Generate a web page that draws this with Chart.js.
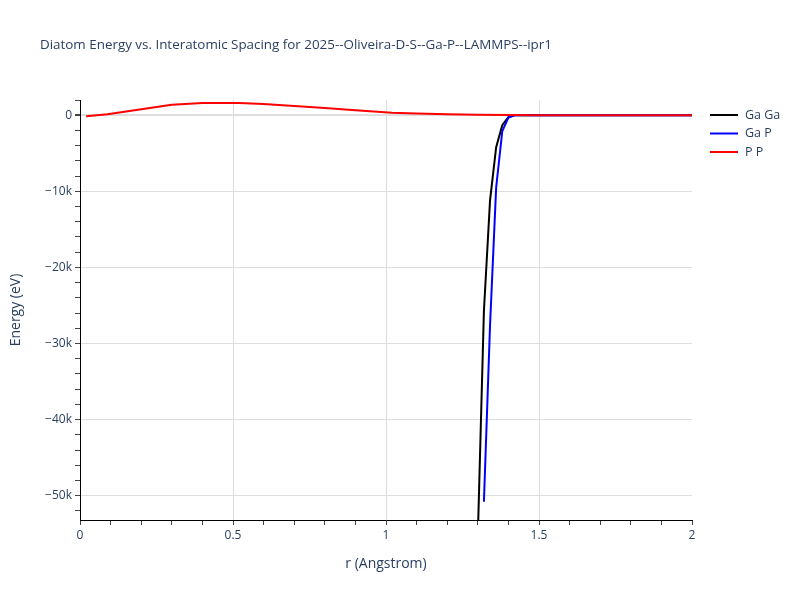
<!DOCTYPE html>
<html>
<head>
<meta charset="utf-8">
<title>Diatom Energy vs. Interatomic Spacing</title>
<script src="https://cdn.jsdelivr.net/npm/chart.js@4.4.1/dist/chart.umd.min.js"></script>
<style>
    html, body { margin: 0; padding: 0; background: #fff; }
    #wrap { width: 800px; height: 600px; }
</style>
</head>
<body>
<div id="wrap"><canvas id="diatomChart" width="800" height="600"></canvas></div>
<script>
'use strict';

// ============================================================================
// Data
// ============================================================================

const chartTitle = 'Diatom Energy vs. Interatomic Spacing for 2025--Oliveira-D-S--Ga-P--LAMMPS--ipr1';
const seriesNames = ['Ga Ga', 'Ga P', 'P P'];

// Ga Ga
const gaGaR = [1.30, 1.32, 1.34, 1.36, 1.38, 1.40, 1.42, 1.50, 2.00];
const gaGaE = [-55500, -25700, -11200, -4200, -1300, -250, 0, 0, 0];

// Ga P
const gaPR = [1.32, 1.34, 1.36, 1.38, 1.40, 1.42, 1.50, 2.00];
const gaPE = [-50800, -27600, -9500, -2100, -300, 0, 0, 0];

// P P
const ppR = [0.02, 0.09, 0.30, 0.40, 0.52, 0.60, 0.70, 0.80, 0.90, 1.02, 1.10, 1.20, 1.30, 1.40, 1.50, 2.00];
const ppE = [-150, 120, 1360, 1620, 1620, 1460, 1220, 940, 650, 330, 230, 140, 70, 30, 0, 0];

// Axis ranges and ticks
const xRange = [0, 2];
const yRange = [-53200, 2000];
const xMinorStep = 0.1;
const yMinorStep = 2000;
const yMajorStep = 10000;

// ============================================================================
// Style
// ============================================================================

const FONT = "'Open Sans', verdana, arial, sans-serif";
const TEXT = '#2a3f5f';
const GRID = '#dedede';
const lineColors = ['#000000', '#0000ff', '#ff0000'];

function toPoints(xs, ys) {
    return xs.map((x, i) => ({ x: x, y: ys[i] }));
}

/**
 * Tick values on a fixed step inside [min, max]
 */
function stepTicks(min, max, step) {
    const out = [];
    const first = Math.ceil(min / step - 1e-9);
    const last = Math.floor(max / step + 1e-9);
    for (let i = first; i <= last; i++) {
        out.push({ value: Math.round(i * step * 1e6) / 1e6 });
    }
    return out;
}

function isMajorX(v) {
    return Math.abs(v * 2 - Math.round(v * 2)) < 1e-6;
}

function isMajorY(v) {
    return Math.abs(v % yMajorStep) < 1e-6;
}

function formatK(v) {
    if (v === 0) return '0';
    const k = Math.round(v / 1000);
    return (k < 0 ? '\u2212' + (-k) : String(k)) + 'k';
}

// ============================================================================
// Plugins: title and legend drawn in plotly layout
// ============================================================================

const titlePlugin = {
    id: 'plotTitle',
    afterDraw(chart) {
        const ctx = chart.ctx;
        ctx.save();
        ctx.font = '13.4px ' + FONT;
        ctx.fillStyle = TEXT;
        ctx.textBaseline = 'middle';
        ctx.textAlign = 'left';
        ctx.fillText(chartTitle, 40, 45);
        ctx.restore();
    }
};

const legendPlugin = {
    id: 'sideLegend',
    afterDraw(chart) {
        const ctx = chart.ctx;
        ctx.save();
        ctx.font = '12.5px ' + FONT;
        ctx.textBaseline = 'middle';
        ctx.textAlign = 'left';
        chart.data.datasets.forEach((ds, i) => {
            const y = 115 + i * 18.5;
            ctx.strokeStyle = ds.borderColor;
            ctx.lineWidth = 2;
            ctx.beginPath();
            ctx.moveTo(710, y);
            ctx.lineTo(738, y);
            ctx.stroke();
            ctx.fillStyle = TEXT;
            ctx.fillText(ds.label, 745, y);
        });
        ctx.restore();
    }
};

// ============================================================================
// Chart
// ============================================================================

const seriesData = [
    toPoints(gaGaR, gaGaE),
    toPoints(gaPR, gaPE),
    toPoints(ppR, ppE)
];

new Chart(document.getElementById('diatomChart'), {
    type: 'line',
    data: {
        datasets: seriesNames.map((name, i) => ({
            label: name,
            data: seriesData[i],
            borderColor: lineColors[i],
            backgroundColor: lineColors[i],
            borderWidth: 2,
            pointRadius: 0,
            tension: 0,
            fill: false,
            order: 3 - i
        }))
    },
    options: {
        responsive: false,
        animation: false,
        layout: {
            padding: { left: 0, top: 100, right: 108, bottom: 0 }
        },
        plugins: {
            legend: { display: false },
            tooltip: { enabled: false }
        },
        scales: {
            x: {
                type: 'linear',
                min: xRange[0],
                max: xRange[1],
                afterBuildTicks(scale) { scale.ticks = stepTicks(xRange[0], xRange[1], xMinorStep); },
                afterFit(scale) { scale.height = 80; },
                border: { color: '#000', width: 1 },
                grid: {
                    color: ctx => {
                        const v = ctx.tick ? ctx.tick.value : 0;
                        return (isMajorX(v) && v > 0 && v < 2) ? GRID : 'rgba(0,0,0,0)';
                    },
                    tickColor: '#444',
                    tickLength: 5
                },
                ticks: {
                    autoSkip: false,
                    maxRotation: 0,
                    padding: 3,
                    color: TEXT,
                    font: { family: FONT, size: 12 },
                    callback: v => isMajorX(v) ? String(Math.round(v * 10) / 10) : ''
                },
                title: {
                    display: true,
                    text: 'r (Angstrom)',
                    color: TEXT,
                    font: { family: FONT, size: 14 },
                    padding: { top: 0, bottom: 28 }
                }
            },
            y: {
                type: 'linear',
                min: yRange[0],
                max: yRange[1],
                afterBuildTicks(scale) { scale.ticks = stepTicks(yRange[0], yRange[1], yMinorStep); },
                afterFit(scale) { scale.width = 80; },
                border: { color: '#000', width: 1 },
                grid: {
                    color: ctx => {
                        const v = ctx.tick ? ctx.tick.value : 1;
                        return (isMajorY(v) && v < yRange[1]) ? GRID : 'rgba(0,0,0,0)';
                    },
                    lineWidth: ctx => (ctx.tick && ctx.tick.value === 0) ? 2 : 1,
                    tickColor: '#444',
                    tickLength: 5
                },
                ticks: {
                    autoSkip: false,
                    padding: 3,
                    color: TEXT,
                    font: { family: FONT, size: 12 },
                    callback: v => isMajorY(v) ? formatK(v) : ''
                },
                title: {
                    display: true,
                    text: 'Energy (eV)',
                    color: TEXT,
                    font: { family: FONT, size: 14 },
                    padding: { top: 8, bottom: 0 }
                }
            }
        }
    },
    plugins: [titlePlugin, legendPlugin]
});
</script>
</body>
</html>
